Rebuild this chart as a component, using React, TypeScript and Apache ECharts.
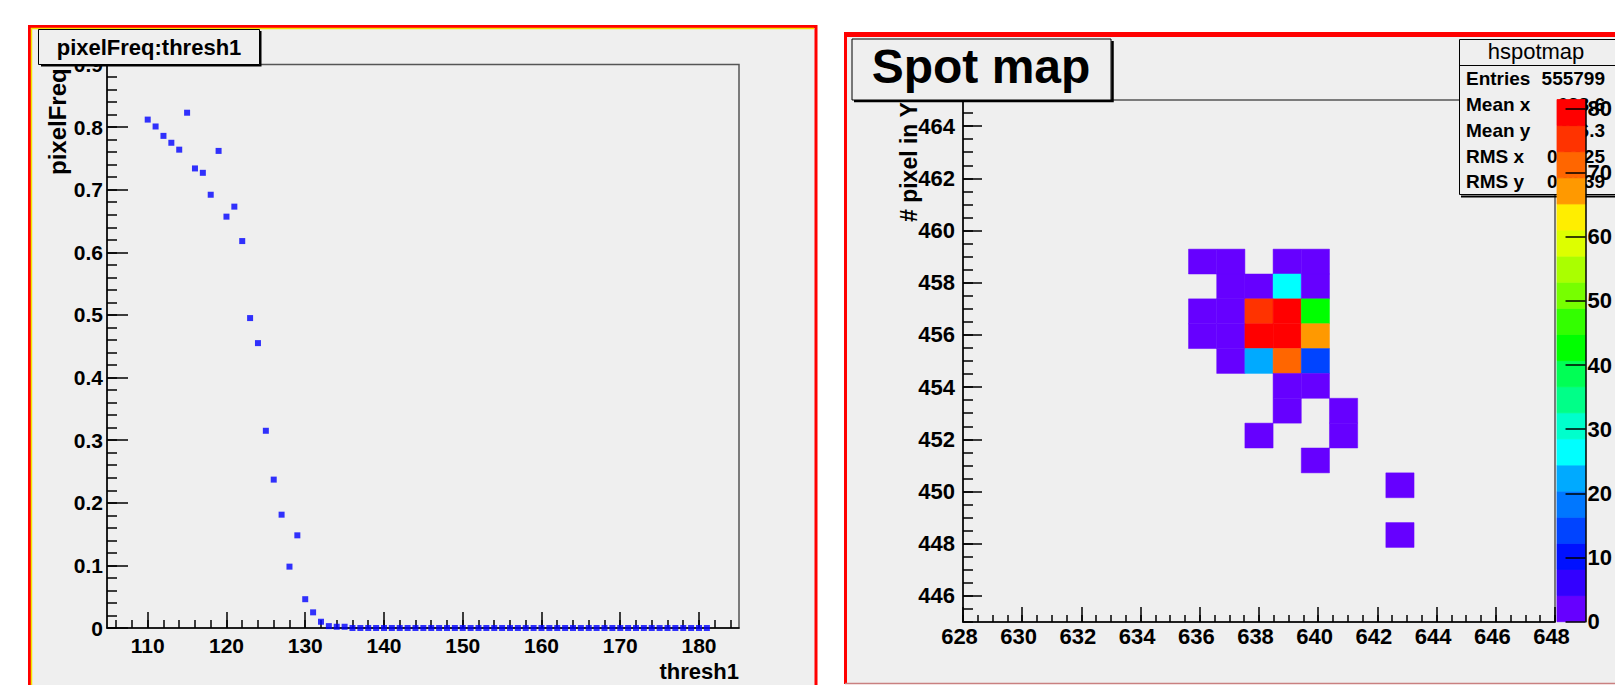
import React, { useEffect, useRef } from "react";
import * as echarts from "echarts";

// ---------------- data: left panel (pixelFreq vs thresh1) ----------------
const thresh1 = [
  110, 111, 112, 113, 114, 115, 116, 117, 118, 119,
  120, 121, 122, 123, 124, 125, 126, 127, 128, 129,
  130, 131, 132, 133, 134, 135, 136, 137, 138, 139,
  140, 141, 142, 143, 144, 145, 146, 147, 148, 149,
  150, 151, 152, 153, 154, 155, 156, 157, 158, 159,
  160, 161, 162, 163, 164, 165, 166, 167, 168, 169,
  170, 171, 172, 173, 174, 175, 176, 177, 178, 179,
  180, 181,
];
const pixelFreq = [
  0.812, 0.801, 0.786, 0.775, 0.764, 0.823, 0.734, 0.727, 0.692, 0.762,
  0.657, 0.673, 0.618, 0.495, 0.455, 0.315, 0.237, 0.181, 0.098, 0.148,
  0.046, 0.025, 0.010, 0.003, 0.002, 0.002, 0, 0, 0, 0,
  0, 0, 0, 0, 0, 0, 0, 0, 0, 0,
  0, 0, 0, 0, 0, 0, 0, 0, 0, 0,
  0, 0, 0, 0, 0, 0, 0, 0, 0, 0,
  0, 0, 0, 0, 0, 0, 0, 0, 0, 0,
  0, 0,
];
const leftXLabels = [110, 120, 130, 140, 150, 160, 170, 180];
const leftXRange = [104.83, 185.08];
const leftYRange = [0, 0.9];

// ---------------- data: right panel (Spot map) ----------------
const spotXRange = [628, 648];
const spotYRange = [445, 465];
const spotBins = 21;
// [x bin index, y bin index, content]
const spotCells = [
  [8, 14, 2], [9, 14, 1], [11, 14, 2], [12, 14, 1],
  [9, 13, 2], [10, 13, 3], [11, 13, 26], [12, 13, 2],
  [8, 12, 1], [9, 12, 2], [10, 12, 75], [11, 12, 80], [12, 12, 42],
  [8, 11, 1], [9, 11, 3], [10, 11, 81.4], [11, 11, 79], [12, 11, 67],
  [9, 10, 2], [10, 10, 22], [11, 10, 71], [12, 10, 14],
  [11, 9, 2], [12, 9, 3],
  [11, 8, 1], [13, 8, 1],
  [10, 7, 1], [13, 7, 2],
  [12, 6, 1],
  [15, 5, 1],
  [15, 3, 1],
];
const spotXLabels = [628, 630, 632, 634, 636, 638, 640, 642, 644, 646, 648];
const spotYLabels = [446, 448, 450, 452, 454, 456, 458, 460, 462, 464];
const zMax = 81.4;
const zLabels = [0, 10, 20, 30, 40, 50, 60, 70, 80];
const palette = [
  "#6600ff", "#3300ff", "#0011ff", "#0044ff", "#0077ff",
  "#00aaff", "#00ffff", "#00ffcc", "#00ff88", "#00ff55",
  "#00ff00", "#33ff00", "#77ff00", "#aaff00", "#ddff00",
  "#ffee00", "#ff9900", "#ff6600", "#ff3300", "#ff0000",
];
const statsLabels = ["Entries", "Mean x", "Mean y", "RMS x", "RMS y"];
const statsValues = ["555799", "638.6", "456.3", "0.9125", "0.9839"];

// ---------------- helpers ----------------
const FONT = "'Liberation Sans', Arial, Helvetica, sans-serif";
const BG = "#efefef";
const steps = (a: number, b: number, s: number) => {
  const r: number[] = [];
  for (let v = a; v <= b + 1e-9; v += s) r.push(Math.round(v * 1000) / 1000);
  return r;
};

const labelStyle = (size: number, margin: number, extra: any = {}) => ({
  show: true,
  margin,
  fontSize: size,
  fontWeight: "bold",
  color: "#000",
  fontFamily: FONT,
  ...extra,
});
const tickLine = { color: "#000", width: 1.5 };
const blackLine = { show: true, onZero: false, lineStyle: { color: "#000", width: 1.5 } };
const noLine = { show: false, onZero: false };

const txt = (x: number, y: number, text: string, size: number, align: string, opts: any = {}) => ({
  type: "text",
  x,
  y,
  rotation: opts.rotation || 0,
  z: opts.z ?? 1,
  style: {
    text,
    fontSize: size,
    fontWeight: opts.weight || "bold",
    fontFamily: FONT,
    fill: "#000",
    align,
    textAlign: align,
    verticalAlign: "middle",
    textVerticalAlign: "middle",
  },
});

export default function App() {
  const ref = useRef<HTMLDivElement>(null);

  useEffect(() => {
    if (!ref.current) return;
    const chart = echarts.init(ref.current, null, { renderer: "svg" });

    const xBinW = (spotXRange[1] - spotXRange[0]) / spotBins;
    const yBinW = (spotYRange[1] - spotYRange[0]) / spotBins;
    const zStep = zMax / palette.length;

    const graphic: any[] = [
      // left pad
      { type: "rect", z: -10, shape: { x: 29.5, y: 26.5, width: 786.5, height: 700 }, style: { fill: BG, stroke: "#ff0000", lineWidth: 3 } },
      { type: "polyline", z: -9, shape: { points: [[31.5, 700], [31.5, 28.5], [814, 28.5]] }, style: { stroke: "#f2e600", lineWidth: 1.5, fill: null } },
      // right pad
      { type: "rect", z: -10, shape: { x: 845, y: 34, width: 800, height: 649 }, style: { fill: BG } },
      { type: "line", z: -9, shape: { x1: 845.5, y1: 32, x2: 845.5, y2: 684 }, style: { stroke: "#ff0000", lineWidth: 3 } },
      { type: "rect", z: -9, shape: { x: 844, y: 32, width: 800, height: 5 }, style: { fill: "#ff0000" } },
      { type: "line", z: -9, shape: { x1: 845, y1: 683.5, x2: 1615, y2: 683.5 }, style: { stroke: "#c98080", lineWidth: 1.5 } },

      // axis titles
      txt(57, 175, "pixelFreq", 24, "left", { rotation: Math.PI / 2 }),
      txt(739, 671.5, "thresh1", 22, "right"),
      txt(909, 222, "# pixel in Y", 23, "left", { rotation: Math.PI / 2 }),

      // left title box
      { type: "polyline", z: 19, shape: { points: [[41, 65.5], [260.5, 65.5], [260.5, 31]] }, style: { stroke: "#000", lineWidth: 2, fill: null } },
      { type: "rect", z: 20, shape: { x: 38.5, y: 29.5, width: 221, height: 35 }, style: { fill: BG, stroke: "#000", lineWidth: 1 } },
      txt(149, 47.5, "pixelFreq:thresh1", 22, "center", { z: 21 }),

      // right title box
      { type: "polyline", z: 19, shape: { points: [[854, 101], [1112.5, 101], [1112.5, 41]] }, style: { stroke: "#000", lineWidth: 2.5, fill: null } },
      { type: "rect", z: 20, shape: { x: 852, y: 39, width: 259, height: 61 }, style: { fill: BG, stroke: "#000", lineWidth: 1 } },
      txt(981, 66, "Spot map", 48, "center", { z: 21 }),

      // stats box
      { type: "line", z: 5, shape: { x1: 1461, y1: 196.5, x2: 1615, y2: 196.5 }, style: { stroke: "#000", lineWidth: 2 } },
      { type: "rect", z: 5, shape: { x: 1459.5, y: 39.5, width: 200, height: 155 }, style: { fill: BG, stroke: "#000", lineWidth: 1 } },
      { type: "line", z: 6, shape: { x1: 1459.5, y1: 65.5, x2: 1615, y2: 65.5 }, style: { stroke: "#000", lineWidth: 1 } },
      txt(1536, 51, "hspotmap", 22, "center", { z: 6, weight: "normal" }),
    ];
    const statsY = [78.5, 104.5, 130, 156, 181.5];
    statsLabels.forEach((l, i) => graphic.push(txt(1466, statsY[i], l, 19, "left", { z: 6 })));
    statsValues.forEach((v, i) => graphic.push(txt(1605, statsY[i], v, 19, "right", { z: 6 })));

    const option: any = {
      animation: false,
      backgroundColor: "#ffffff",
      textStyle: { fontFamily: FONT },
      grid: [
        { left: 107, top: 64.5, width: 632, height: 563.5, show: true, borderColor: "#555", borderWidth: 1.5, backgroundColor: "transparent" },
        { left: 963, top: 100, width: 592, height: 522, show: true, borderColor: "#555", borderWidth: 1.5, backgroundColor: "transparent" },
        { left: 1557, top: 99.5, width: 37, height: 522.2, show: false },
      ],
      xAxis: [
        {
          type: "value", gridIndex: 0, position: "bottom", min: leftXRange[0], max: leftXRange[1],
          axisLine: blackLine,
          axisTick: { show: true, inside: true, length: 16, customValues: leftXLabels, lineStyle: tickLine },
          axisLabel: labelStyle(21, 7, { customValues: leftXLabels }),
          splitLine: { show: false },
        },
        {
          type: "value", gridIndex: 0, position: "bottom", min: leftXRange[0], max: leftXRange[1],
          axisLine: noLine,
          axisTick: { show: true, inside: true, length: 8, customValues: steps(106, 184, 2), lineStyle: tickLine },
          axisLabel: { show: false },
          splitLine: { show: false },
        },
        {
          type: "value", gridIndex: 1, position: "bottom", min: spotXRange[0], max: spotXRange[1],
          axisLine: blackLine,
          axisTick: { show: true, inside: true, length: 15, customValues: spotXLabels, lineStyle: tickLine },
          axisLabel: labelStyle(22, 3, { customValues: spotXLabels, padding: [0, 7, 0, 0] }),
          splitLine: { show: false },
        },
        {
          type: "value", gridIndex: 1, position: "bottom", min: spotXRange[0], max: spotXRange[1],
          axisLine: noLine,
          axisTick: { show: true, inside: true, length: 7, customValues: steps(628, 648, 0.5), lineStyle: tickLine },
          axisLabel: { show: false },
          splitLine: { show: false },
        },
        { type: "value", gridIndex: 2, min: 0, max: 1, show: false },
      ],
      yAxis: [
        {
          type: "value", gridIndex: 0, position: "left", min: leftYRange[0], max: leftYRange[1], interval: 0.1,
          axisLine: blackLine,
          axisTick: { show: true, inside: true, length: 21, lineStyle: tickLine },
          axisLabel: labelStyle(21, 4),
          splitLine: { show: false },
        },
        {
          type: "value", gridIndex: 0, position: "left", min: leftYRange[0], max: leftYRange[1],
          axisLine: noLine,
          axisTick: { show: true, inside: true, length: 10, customValues: steps(0, 0.9, 0.02), lineStyle: tickLine },
          axisLabel: { show: false },
          splitLine: { show: false },
        },
        {
          type: "value", gridIndex: 1, position: "left", min: spotYRange[0], max: spotYRange[1],
          axisLine: blackLine,
          axisTick: { show: true, inside: true, length: 19, customValues: spotYLabels, lineStyle: tickLine },
          axisLabel: labelStyle(22, 8, { customValues: spotYLabels }),
          splitLine: { show: false },
        },
        {
          type: "value", gridIndex: 1, position: "left", min: spotYRange[0], max: spotYRange[1],
          axisLine: noLine,
          axisTick: { show: true, inside: true, length: 10, customValues: steps(445, 465, 0.5), lineStyle: tickLine },
          axisLabel: { show: false },
          splitLine: { show: false },
        },
        {
          type: "value", gridIndex: 2, position: "right", min: 0, max: zMax, z: 12,
          axisLine: blackLine,
          axisTick: { show: true, inside: true, length: 20, customValues: zLabels, lineStyle: tickLine },
          minorTick: { show: false },
          axisLabel: labelStyle(22, 2, { customValues: zLabels }),
          splitLine: { show: false },
        },
      ],
      series: [
        {
          type: "scatter",
          xAxisIndex: 0,
          yAxisIndex: 0,
          data: thresh1.map((t, i) => [t, pixelFreq[i]]),
          symbol: "rect",
          symbolSize: 6,
          itemStyle: { color: "#0000ff" },
          clip: false,
          z: 3,
        },
        {
          type: "custom",
          xAxisIndex: 2,
          yAxisIndex: 2,
          data: spotCells,
          clip: false,
          z: 2,
          renderItem: (_p: any, api: any) => {
            const ix = api.value(0);
            const iy = api.value(1);
            const v = api.value(2);
            const x0 = spotXRange[0] + ix * xBinW;
            const y0 = spotYRange[0] + iy * yBinW;
            const a = api.coord([x0, y0]);
            const b = api.coord([x0 + xBinW, y0 + yBinW]);
            const k = Math.min(palette.length - 1, Math.floor(v / zStep));
            return {
              type: "rect",
              shape: { x: a[0], y: b[1], width: b[0] - a[0], height: a[1] - b[1] },
              style: { fill: palette[k], stroke: palette[k], lineWidth: 0.5 },
            };
          },
        },
        {
          // colour bar: one item drawing all palette levels as a group
          type: "custom",
          xAxisIndex: 4,
          yAxisIndex: 4,
          data: [[0.5, 0]],
          clip: false,
          z: 10,
          renderItem: (_p: any, api: any) => ({
            type: "group",
            children: palette.map((c, k) => {
              const a = api.coord([0, k * zStep]);
              const b = api.coord([1, (k + 1) * zStep]);
              return {
                type: "rect",
                shape: { x: a[0], y: b[1], width: b[0] - a[0], height: a[1] - b[1] },
                style: { fill: c, stroke: c, lineWidth: 0.8 },
              };
            }),
          }),
        },
      ],
      graphic,
    };

    chart.setOption(option);
    return () => chart.dispose();
  }, []);

  return (
    <div
      ref={ref}
      style={{ position: "absolute", left: 0, top: 0, width: 1615, height: 685 }}
    />
  );
}
